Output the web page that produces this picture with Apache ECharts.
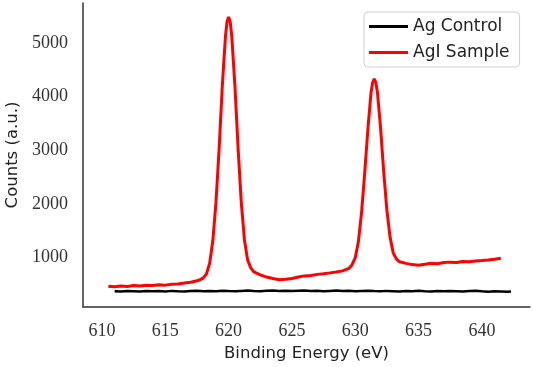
<!DOCTYPE html>
<html>
<head>
<meta charset="utf-8">
<script src="https://cdn.jsdelivr.net/npm/echarts@6/dist/echarts.min.js"></script>
<style>
  html, body { margin: 0; padding: 0; background: #fff; }
  #chart { width: 533px; height: 367px; }
</style>
</head>
<body>
<div id="chart"></div>
<script>
// binding energy (eV) / counts
const seriesNames = ['Ag Control', 'AgI Sample'];
const xTicks = [610, 615, 620, 625, 630, 635, 640];
const yTicks = [1000, 2000, 3000, 4000, 5000];

const agControl = [
  [611,378],[611.5,372],[612,380],[612.5,375],[613,370],[613.5,381],[614,374],[614.5,379],
  [615,372],[615.5,383],[616,376],[616.5,371],[617,379],[617.5,384],[618,375],[618.5,380],
  [619,377],[619.5,386],[620,379],[620.5,374],[621,382],[621.5,388],[622,380],[622.5,376],
  [623,385],[623.5,390],[624,383],[624.5,387],[625,379],[625.5,384],[626,389],[626.5,381],
  [627,386],[627.5,378],[628,383],[628.5,388],[629,380],[629.5,385],[630,377],[630.5,382],
  [631,386],[631.5,379],[632,374],[632.5,383],[633,378],[633.5,372],[634,381],[634.5,376],
  [635,384],[635.5,377],[636,371],[636.5,380],[637,375],[637.5,382],[638,376],[638.5,370],
  [639,379],[639.5,385],[640,374],[640.5,369],[641,377],[641.5,372],[642,366],[642.3,371]
];

const agiSample = [
  [610.5,470],[611,458],[611.5,474],[612,466],[612.5,481],[613,472],[613.5,489],[614,484],
  [614.5,496],[615,490],[615.5,506],[616,512],[616.5,528],[617,545],[617.5,570],[617.75,590],
  [618,625],[618.25,700],[618.5,894],[618.75,1310],[619,2025],[619.25,3030],[619.5,4190],
  [619.75,5120],[619.875,5390],[620,5480],[620.125,5390],[620.25,5120],[620.5,4190],
  [620.75,3030],[621,2030],[621.25,1330],[621.5,960],[621.75,810],[622,735],[622.5,680],
  [623,640],[623.5,612],[624,592],[624.5,600],[625,615],[625.5,640],[626,662],[626.5,668],
  [627,690],[627.5,702],[628,718],[628.5,735],[629,755],[629.5,800],[629.75,870],
  [630,1000],[630.25,1300],[630.5,1850],[630.75,2590],[631,3400],[631.25,4080],
  [631.375,4260],[631.5,4330],[631.625,4260],[631.75,4080],[632,3415],[632.25,2590],
  [632.5,1880],[632.75,1380],[633,1090],[633.25,975],[633.5,925],[634,895],[634.5,872],
  [635,860],[635.5,878],[636,898],[636.5,888],[637,910],[637.5,918],[638,912],[638.5,930],
  [639,924],[639.5,940],[640,948],[640.5,958],[641,970],[641.5,990]
];

const chart = echarts.init(document.getElementById('chart'));
const option = {
  animation: false,
  backgroundColor: '#fff',
  grid: { left: 83, right: 3, top: 3, bottom: 60, outerBoundsMode: 'none' },
  legend: {
    left: 364,
    top: 12,
    orient: 'vertical',
    data: seriesNames,
    icon: 'rect',
    itemWidth: 39,
    itemHeight: 3,
    itemGap: 9,
    padding: [6, 10, 6, 5],
    borderColor: '#d0d0d0',
    borderWidth: 1,
    borderRadius: 4,
    backgroundColor: '#fff',
    textStyle: { fontFamily: 'DejaVu Sans', fontSize: 17, color: '#222' }
  },
  xAxis: {
    type: 'value',
    min: 608.5,
    max: 643.8,
    name: 'Binding Energy (eV)',
    nameLocation: 'middle',
    nameGap: 37,
    nameTextStyle: { fontFamily: 'DejaVu Sans', fontSize: 16.5, color: '#222' },
    axisLine: { show: true, lineStyle: { color: '#333', width: 1.5 } },
    axisTick: { show: false },
    splitLine: { show: false },
    axisLabel: {
      customValues: xTicks,
      margin: 15,
      fontFamily: 'Liberation Serif',
      fontSize: 18,
      color: '#333',
      formatter: (v) => String(v)
    }
  },
  yAxis: {
    type: 'value',
    min: 83,
    max: 5740,
    name: 'Counts (a.u.)',
    nameLocation: 'middle',
    nameGap: 62,
    nameTextStyle: { fontFamily: 'DejaVu Sans', fontSize: 16.5, color: '#222' },
    axisLine: { show: true, lineStyle: { color: '#333', width: 1.5 } },
    axisTick: { show: false },
    splitLine: { show: false },
    axisLabel: {
      customValues: yTicks,
      margin: 15,
      fontFamily: 'Liberation Serif',
      fontSize: 18,
      color: '#333',
      formatter: (v) => String(v)
    }
  },
  series: [
    {
      name: seriesNames[0],
      type: 'line',
      data: agControl,
      showSymbol: false,
      color: '#000',
      lineStyle: { color: '#000', width: 2.5 }
    },
    {
      name: seriesNames[1],
      type: 'line',
      data: agiSample,
      showSymbol: false,
      color: '#ff0000',
      lineStyle: { color: '#ff0000', width: 3 }
    }
  ]
};
chart.setOption(option);
</script>
</body>
</html>
